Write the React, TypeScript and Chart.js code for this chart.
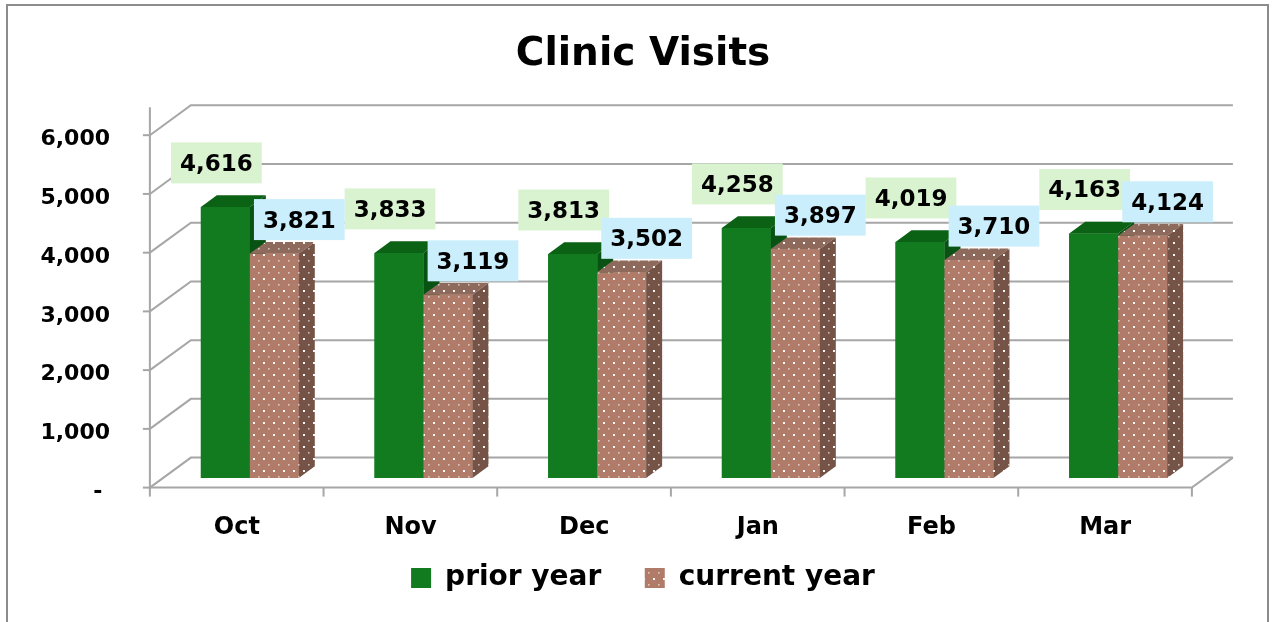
import React, { useEffect, useRef } from 'react';
import { Chart, registerables } from 'chart.js';

Chart.register(...registerables);

const chartTitle = 'Clinic Visits';
const categories = ['Oct', 'Nov', 'Dec', 'Jan', 'Feb', 'Mar'];
const seriesNames = ['prior year', 'current year'];
const priorYear = [4616, 3833, 3813, 4258, 4019, 4163];
const currentYear = [3821, 3119, 3502, 3897, 3710, 4124];
const yTickValues = [0, 1000, 2000, 3000, 4000, 5000, 6000];

const W = 1276;
const H = 622;
const FONT = '"DejaVu Sans", "Noto Sans", sans-serif';
const DEPTH_X = 41;
const DEPTH_Y = -30;
const FRONT_F = 0.32;
const BAR_F = 0.39;
const GRID = '#a6a6a6';

const GREEN = { front: '#127a1f', top: '#0b6114', side: '#085213', label: '#d9f2d0' };
const BROWN = { front: '#b07c69', top: '#8d6a5b', side: '#755447', label: '#caeefb' };

function dotPattern(base: string): CanvasPattern | string {
  const c = document.createElement('canvas');
  c.width = 10;
  c.height = 12;
  const g = c.getContext('2d');
  if (!g) return base;
  g.fillStyle = base;
  g.fillRect(0, 0, 10, 12);
  g.fillStyle = 'rgba(255,255,255,0.95)';
  g.fillRect(3, 2, 2, 2);
  g.fillStyle = 'rgba(255,255,255,0.6)';
  g.fillRect(8, 8, 1.6, 1.6);
  return g.createPattern(c, 'repeat') || base;
}

function makePlugin(faces: { top: any; side: any }[], labelBg: string[]) {
  return {
    id: 'clinic3d',
    beforeDraw(chart: any) {
      const ctx = chart.ctx;
      ctx.save();
      ctx.fillStyle = '#ffffff';
      ctx.fillRect(0, 0, chart.width, chart.height);
      ctx.strokeStyle = '#8c8c8c';
      ctx.lineWidth = 2;
      ctx.strokeRect(7, 5, 1261, chart.height + 20);
      ctx.restore();
    },
    beforeDatasetsDraw(chart: any) {
      const ctx = chart.ctx;
      const a = chart.chartArea;
      const y = chart.scales.y;
      const x = chart.scales.x;
      const fx = -FRONT_F * DEPTH_X;
      const fy = -FRONT_F * DEPTH_Y;
      const bx = (1 - FRONT_F) * DEPTH_X;
      const by = (1 - FRONT_F) * DEPTH_Y;
      ctx.save();
      ctx.strokeStyle = GRID;
      ctx.lineWidth = 2;
      ctx.lineCap = 'butt';
      yTickValues.forEach((v) => {
        const yy = y.getPixelForValue(v);
        ctx.beginPath();
        ctx.moveTo(a.left + fx, yy + fy);
        ctx.lineTo(a.left + bx, yy + by);
        ctx.lineTo(a.right + bx, yy + by);
        ctx.stroke();
        ctx.beginPath();
        ctx.moveTo(a.left + fx - 7, yy + fy);
        ctx.lineTo(a.left + fx, yy + fy);
        ctx.stroke();
      });
      const y0 = y.getPixelForValue(yTickValues[0]);
      const yTop = y.getPixelForValue(yTickValues[yTickValues.length - 1]);
      ctx.beginPath();
      ctx.moveTo(a.left + fx, y0 + fy);
      ctx.lineTo(a.right + fx, y0 + fy);
      ctx.lineTo(a.right + bx, y0 + by);
      ctx.stroke();
      ctx.beginPath();
      ctx.moveTo(a.left + fx, y0 + fy + 2);
      ctx.lineTo(a.left + fx, yTop + by + 2);
      ctx.stroke();
      const n = categories.length;
      const bounds: number[] = [a.left];
      for (let i = 1; i < n; i++) {
        bounds.push((x.getPixelForValue(i - 1) + x.getPixelForValue(i)) / 2);
      }
      bounds.push(a.right);
      bounds.forEach((px) => {
        ctx.beginPath();
        ctx.moveTo(px + fx, y0 + fy);
        ctx.lineTo(px + fx, y0 + fy + 9);
        ctx.stroke();
      });
      ctx.restore();
    },
    afterDatasetsDraw(chart: any) {
      const ctx = chart.ctx;
      const dx = BAR_F * DEPTH_X;
      const dy = BAR_F * DEPTH_Y;
      ctx.save();
      // bars series by series: front face via the element, then top & side faces
      chart.data.datasets.forEach((_ds: any, di: number) => {
        const meta = chart.getDatasetMeta(di);
        const f = faces[di];
        meta.data.forEach((el: any) => {
          el.draw(ctx);
          const { x, y, base, width } = el.getProps(['x', 'y', 'base', 'width'], true);
          const l = x - width / 2;
          const r = x + width / 2;
          ctx.fillStyle = f.top;
          ctx.beginPath();
          ctx.moveTo(l, y);
          ctx.lineTo(r, y);
          ctx.lineTo(r + dx, y + dy);
          ctx.lineTo(l + dx, y + dy);
          ctx.closePath();
          ctx.fill();
          ctx.fillStyle = f.side;
          ctx.beginPath();
          ctx.moveTo(r, y);
          ctx.lineTo(r + dx, y + dy);
          ctx.lineTo(r + dx, base + dy);
          ctx.lineTo(r, base);
          ctx.closePath();
          ctx.fill();
        });
      });
      // data labels
      ctx.font = `bold 23px ${FONT}`;
      ctx.textAlign = 'center';
      ctx.textBaseline = 'middle';
      chart.data.datasets.forEach((ds: any, di: number) => {
        const meta = chart.getDatasetMeta(di);
        meta.data.forEach((el: any, i: number) => {
          const v = ds.data[i] as number;
          const txt = v.toLocaleString('en-US');
          const { x, y } = el.getProps(['x', 'y'], true);
          const cx = di === 0 ? x - 9 : x + 25;
          const cy = di === 0 ? y - 44 : y - 34;
          const tw = ctx.measureText(txt).width;
          const bw = tw + 18;
          const bh = 41;
          ctx.fillStyle = labelBg[di];
          ctx.fillRect(cx - bw / 2, cy - bh / 2, bw, bh);
          ctx.fillStyle = '#000000';
          ctx.fillText(txt, cx, cy + 2);
        });
      });
      ctx.restore();
    },
  };
}

export default function App() {
  const ref = useRef<HTMLCanvasElement | null>(null);

  useEffect(() => {
    document.body.style.margin = '0';
    const canvas = ref.current;
    if (!canvas) return;
    const brownFront = dotPattern(BROWN.front);
    const brownTop = dotPattern(BROWN.top);
    const brownSide = dotPattern(BROWN.side);
    const plugin = makePlugin(
      [
        { top: GREEN.top, side: GREEN.side },
        { top: brownTop, side: brownSide },
      ],
      [GREEN.label, BROWN.label]
    );
    const tickFont = { family: FONT, size: 22, weight: 'bold' as const };
    const chart = new Chart(canvas, {
      type: 'bar',
      data: {
        labels: categories,
        datasets: [
          {
            label: seriesNames[0],
            data: priorYear,
            backgroundColor: GREEN.front,
            borderWidth: 0,
            xAxisID: 'x',
            yAxisID: 'y',
            categoryPercentage: 0.564,
            barPercentage: 1,
          },
          {
            label: seriesNames[1],
            data: currentYear,
            backgroundColor: brownFront as any,
            borderWidth: 0,
            xAxisID: 'x',
            yAxisID: 'y',
            categoryPercentage: 0.564,
            barPercentage: 1,
          },
        ],
      },
      options: {
        responsive: false,
        animation: false,
        events: [],
        layout: { padding: { top: 0, bottom: 20, left: 10, right: 0 } },
        plugins: {
          title: {
            display: true,
            text: chartTitle,
            color: '#000000',
            font: { family: FONT, size: 39, weight: 'bold' },
            padding: { top: 31, bottom: 47.8 },
          },
          legend: {
            position: 'bottom',
            labels: {
              font: { family: FONT, size: 28, weight: 'bold' },
              color: '#000000',
              boxWidth: 20,
              boxHeight: 20,
              padding: 24,
              generateLabels: (chart: any) => {
                const items = Chart.defaults.plugins.legend.labels.generateLabels(chart);
                return items.map((it: any, i: number) => ({
                  ...it,
                  text: i < items.length - 1 ? it.text + '  ' : it.text,
                }));
              },
            },
          },
          tooltip: { enabled: false },
        },
        scales: {
          x: {
            grid: { display: false },
            border: { display: false },
            ticks: { font: { family: FONT, size: 24, weight: 'bold' }, color: '#000000', padding: 27, labelOffset: -13 },
            afterFit: (s: any) => {
              s.height = 62;
            },
          },
          y: {
            min: 0,
            max: 6000,
            grid: { display: false },
            border: { display: false },
            afterBuildTicks: (s: any) => {
              s.ticks = yTickValues.map((v) => ({ value: v }));
            },
            ticks: {
              font: tickFont,
              color: '#000000',
              padding: 45,
              labelOffset: 14,
              callback: (v: any) => (Number(v) === 0 ? '- ' : Number(v).toLocaleString('en-US')),
            },
            afterFit: (s: any) => {
              s.width = 153;
            },
          },
          yR: {
            type: 'linear',
            position: 'right',
            display: true,
            grid: { display: false },
            border: { display: false },
            ticks: { display: false },
            afterFit: (s: any) => {
              s.width = 71;
            },
          },
        },
      } as any,
      plugins: [plugin as any],
    });
    return () => chart.destroy();
  }, []);

  return (
    <div style={{ width: W, height: H, background: '#fff' }}>
      <canvas ref={ref} width={W} height={H} style={{ display: 'block' }} />
    </div>
  );
}
